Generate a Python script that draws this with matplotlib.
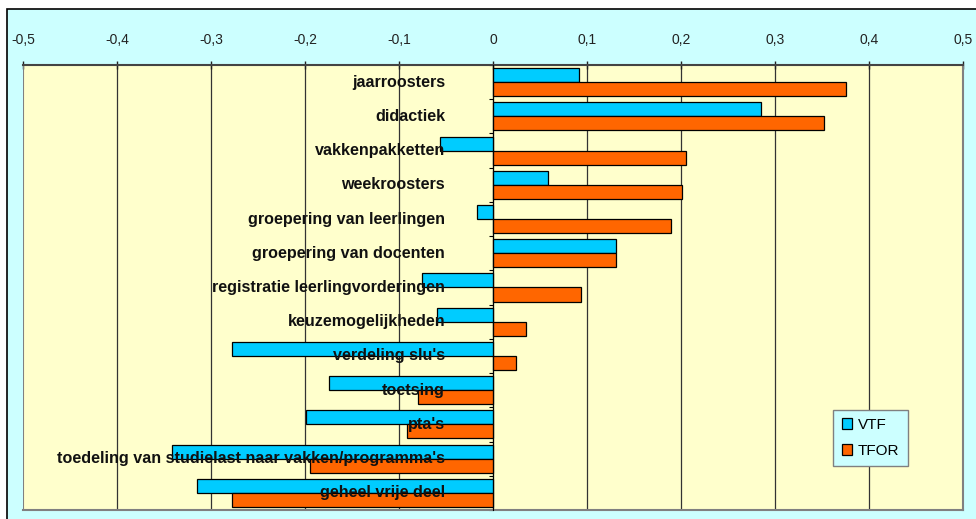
import matplotlib.pyplot as plt
import numpy as np
from matplotlib.patches import Rectangle

# Categorieën (van boven naar beneden)
categorieen = ['jaarroosters', 'didactiek', 'vakkenpakketten', 'weekroosters',
               'groepering van leerlingen', 'groepering van docenten',
               'registratie leerlingvorderingen', 'keuzemogelijkheden',
               "verdeling slu's", 'toetsing', "pta's",
               "toedeling van studielast naar vakken/programma's",
               'geheel vrije deel']
vtf = [0.091, 0.285, -0.056, 0.059, -0.017, 0.131, -0.076, -0.060,
       -0.278, -0.175, -0.199, -0.341, -0.315]
tfor = [0.375, 0.352, 0.205, 0.201, 0.189, 0.131, 0.094, 0.035,
        0.024, -0.080, -0.092, -0.195, -0.278]
xticks = [-0.5, -0.4, -0.3, -0.2, -0.1, 0, 0.1, 0.2, 0.3, 0.4, 0.5]
xlabels = ['-0,5', '-0,4', '-0,3', '-0,2', '-0,1', '0', '0,1', '0,2', '0,3', '0,4', '0,5']

plt.rcParams['font.family'] = ['Liberation Sans', 'DejaVu Sans']

fig = plt.figure(figsize=(9.76, 5.19), dpi=100)
fig.patch.set_facecolor('white')
# achtergrond met rand
fig.patches.append(Rectangle((7 / 976, -0.05), 1.0, (519 - 9) / 519 + 0.05,
                             transform=fig.transFigure, facecolor='#CCFFFF',
                             edgecolor='black', linewidth=1.2, zorder=-10))

ax = fig.add_axes([23 / 976, 9 / 519, 940 / 976, 445 / 519])
ax.set_facecolor('#FFFFCC')

y = np.arange(len(categorieen))
h = 0.41
ax.barh(y - h / 2, vtf, height=h, color='#00CCFF', edgecolor='black', linewidth=0.9,
        label='VTF', zorder=3)
ax.barh(y + h / 2, tfor, height=h, color='#FF6600', edgecolor='black', linewidth=0.9,
        label='TFOR', zorder=3)

for i, naam in enumerate(categorieen):
    ax.text(-0.051, i, naam, ha='right', va='center', fontsize=11.6,
            fontweight='bold', color='#111111', zorder=5)

ax.set_xlim(-0.5, 0.5)
ax.set_ylim(len(categorieen) - 0.5, -0.5)

# x-as bovenaan
ax.xaxis.tick_top()
ax.set_xticks(xticks)
ax.set_xticklabels(xlabels)
ax.tick_params(axis='x', direction='inout', length=6, width=1, pad=10,
               labelsize=10, colors='#222222')
for xv in xticks[1:-1]:
    ax.axvline(xv, color='#333333', linewidth=0.9, zorder=1)

# categorie-as op nul
ax.spines['left'].set_position(('data', 0))
ax.spines['left'].set_zorder(4)
ax.set_yticks(np.arange(-0.5, len(categorieen), 1))
ax.set_yticklabels([])
ax.tick_params(axis='y', direction='out', length=3, width=0.8)
ax.axvline(-0.5, color='#808080', linewidth=1.5, zorder=2)
ax.spines['top'].set_color('#444444')
ax.spines['top'].set_linewidth(1.5)
for s in ['right', 'bottom']:
    ax.spines[s].set_color('#808080')
    ax.spines[s].set_linewidth(1.5)

leg = ax.legend(loc='lower left', bbox_to_anchor=(0.862, 0.099), fontsize=11,
                fancybox=False, framealpha=1, facecolor='#CCFFFF', edgecolor='#808080',
                handlelength=0.7, handleheight=0.7, handletextpad=0.35,
                labelspacing=0.75, borderpad=0.55, borderaxespad=0)

fig.savefig('out.png', dpi=100)
